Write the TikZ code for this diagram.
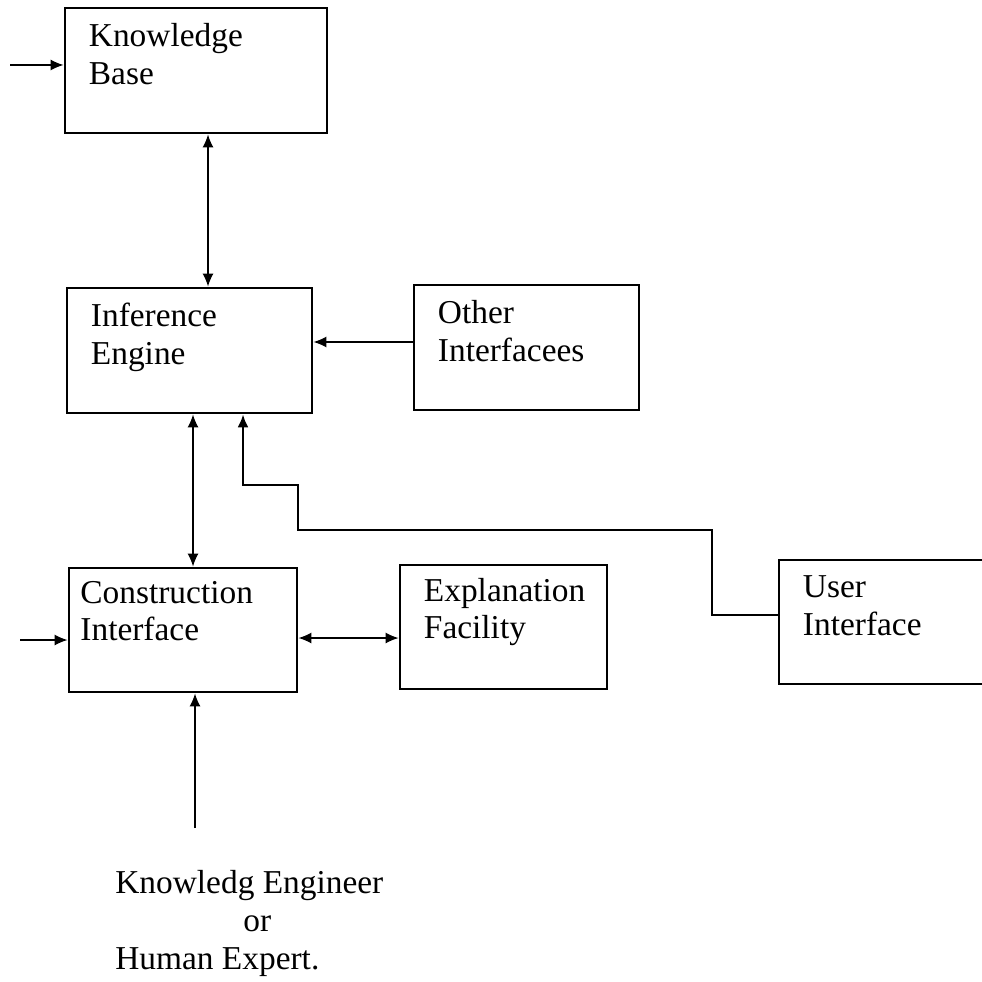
\documentclass[tikz,border=0pt]{standalone}
\usepackage{fontspec}
\setmainfont{Liberation Serif}
\usetikzlibrary{arrows.meta}

\tikzset{
	box/.style={draw, line width=1.6pt, inner sep=0pt},
	boxtext/.style={anchor=north west, inner sep=0pt, align=left, xshift=0.5cm, yshift=-0.33cm},
	link/.style={line width=0.8pt, -{Latex[length=2.6mm,width=2.2mm]}},
	dbl/.style={line width=0.8pt, {Latex[length=2.6mm,width=2.2mm]}-{Latex[length=2.6mm,width=2.2mm]}}
}

\begin{document}
\begin{tikzpicture}[font=\fontsize{19}{21.5}\selectfont]
	\useasboundingbox (0,0) rectangle (19.64,-19.64);

	\node[box, minimum width=5.24cm, minimum height=2.5cm,
		label={[boxtext]north west:Knowledge\\Base}](KB) at (3.92,-1.41){};
	\node[box, minimum width=4.9cm, minimum height=2.5cm,
		label={[boxtext]north west:Inference\\Engine}](IE) at (3.79,-7.01){};
	\node[box, minimum width=4.5cm, minimum height=2.5cm,
		label={[boxtext]north west:Other\\Interfacees}](OI) at (10.53,-6.95){};
	\node[box, minimum width=4.56cm, minimum height=2.48cm,
		label={[boxtext, xshift=-0.25cm, yshift=0.05cm]north west:Construction\\Interface}](CI) at (3.66,-12.6){};
	\node[box, minimum width=4.14cm, minimum height=2.48cm,
		label={[boxtext, yshift=0.05cm]north west:Explanation\\Facility}](EF) at (10.07,-12.54){};
	\node[box, minimum width=4.42cm, minimum height=2.48cm,
		label={[boxtext]north west:User\\Interface}](UI) at (17.79,-12.44){};

	\node[align=left, inner sep=0pt, anchor=north west](expert) at (2.3,-17.4)
		{Knowledg Engineer\\\hspace*{2.56cm}or\\Human Expert.};

	\coordinate(kbin) at (0.2,-1.3);
	\coordinate(ciin) at (0.4,-12.8);
	\coordinate(src) at (3.9,-16.56);
	\coordinate(bendA) at (14.24,-10.6);
	\coordinate(bendB) at (5.96,-9.7);

	\draw[link]  (kbin)--(kbin -| KB.west);
	\draw[dbl]   ([xshift=2.4mm]KB.south)--([xshift=2.4mm]KB.south |- IE.north);
	\draw[link]  ([yshift=1.1mm]OI.west)--([yshift=1.1mm]OI.west -| IE.east);
	\draw[dbl]   ([xshift=2mm]CI.north)--([xshift=2mm]CI.north |- IE.south);
	\draw[link, line width=1.3pt]  ([yshift=1.4mm]UI.west) -| (bendA) -| (bendB) -| ([xshift=10.7mm]IE.south);
	\draw[link]  (ciin)--(ciin -| CI.west);
	\draw[dbl]   ([yshift=-1.6mm]CI.east)--([yshift=-1.6mm]CI.east -| EF.west);
	\draw[link]  (src)--(src |- CI.south);
\end{tikzpicture}
\end{document}
